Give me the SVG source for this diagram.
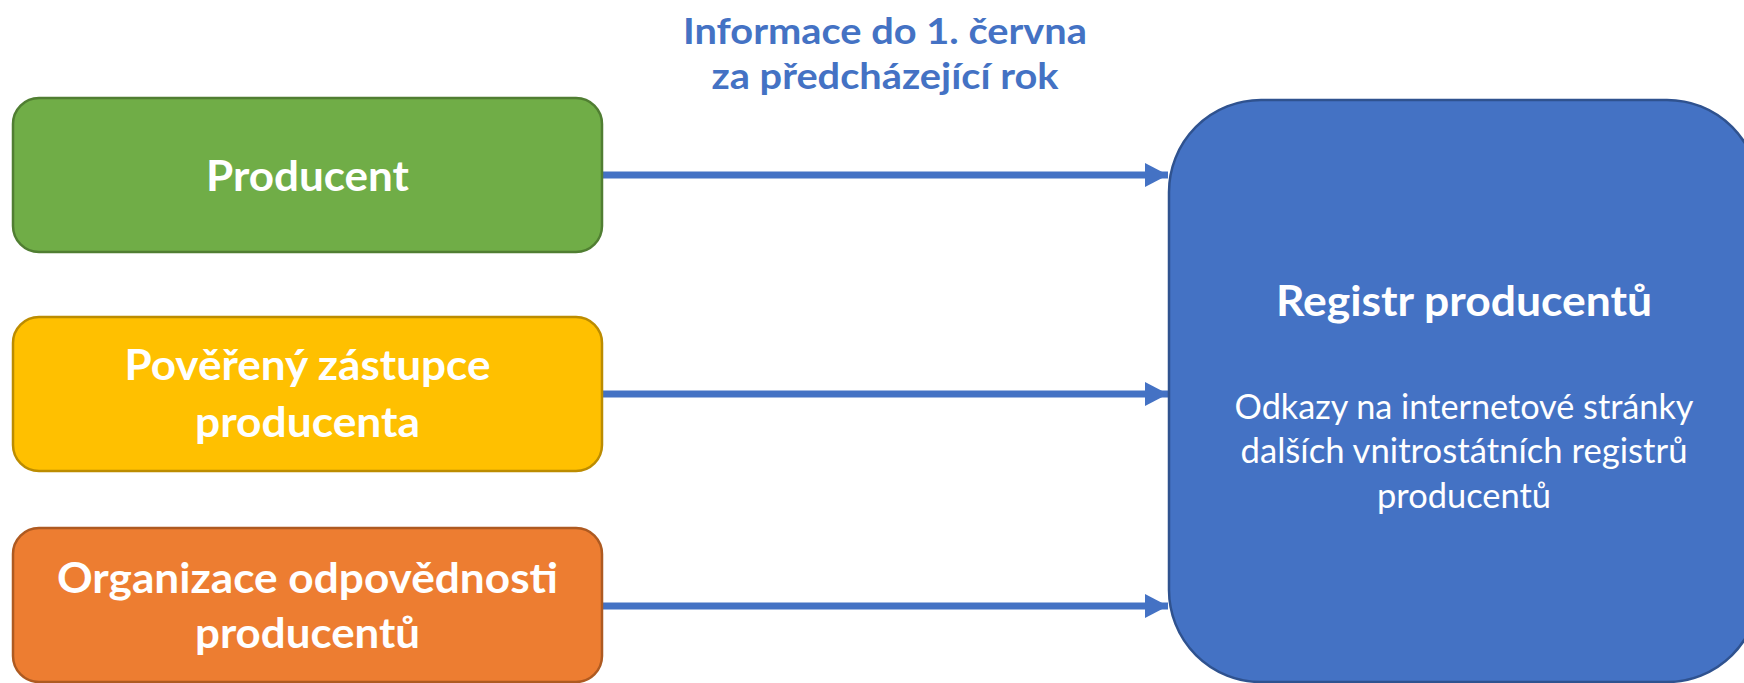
<svg xmlns="http://www.w3.org/2000/svg" width="1744" height="683" viewBox="0 0 1744 683">
<defs>
<style>
.t{font-family:Lato,"Open Sans","Liberation Sans",sans-serif;fill:#fff;text-anchor:middle}
.b{font-weight:bold;font-size:42px}
.title{font-family:Lato,"Open Sans","Liberation Sans",sans-serif;font-weight:bold;font-size:36px;fill:#4472C4;text-anchor:middle}
.sub{font-size:34px}
.box{stroke-width:2.5}
.conn{stroke:#4472C4;stroke-width:7;fill:none}
</style>
<marker id="ah" markerUnits="userSpaceOnUse" markerWidth="24" markerHeight="26" refX="23" refY="13" orient="auto">
<path d="M0,1 L23,13 L0,25 Z" fill="#4472C4"/>
</marker>
</defs>
<rect width="1744" height="683" fill="#fff"/>
<g id="title">
<text class="title" x="885" y="44" textLength="404" lengthAdjust="spacingAndGlyphs">Informace do 1. června</text>
<text class="title" x="885" y="89" textLength="347" lengthAdjust="spacingAndGlyphs">za předcházející rok</text>
</g>
<g id="connectors">
<line class="conn" x1="603" y1="175" x2="1168" y2="175" marker-end="url(#ah)"/>
<line class="conn" x1="603" y1="394" x2="1168" y2="394" marker-end="url(#ah)"/>
<line class="conn" x1="603" y1="606" x2="1168" y2="606" marker-end="url(#ah)"/>
</g>
<g id="producent">
<rect class="box" x="13" y="98" width="589" height="154" rx="26" fill="#70AD47" stroke="#507E32"/>
<text class="t b" x="307.5" y="191" textLength="203" lengthAdjust="spacingAndGlyphs">Producent</text>
</g>
<g id="povereny">
<rect class="box" x="13" y="317" width="589" height="154" rx="26" fill="#FFC000" stroke="#BC8C00"/>
<text class="t b" x="307.5" y="380" textLength="366" lengthAdjust="spacingAndGlyphs">Pověřený zástupce</text>
<text class="t b" x="307.5" y="437" textLength="225" lengthAdjust="spacingAndGlyphs">producenta</text>
</g>
<g id="organizace">
<rect class="box" x="13" y="528" width="589" height="154" rx="26" fill="#ED7D31" stroke="#AE5A21"/>
<text class="t b" x="307.5" y="593" textLength="501" lengthAdjust="spacingAndGlyphs">Organizace odpovědnosti</text>
<text class="t b" x="307.5" y="648" textLength="225" lengthAdjust="spacingAndGlyphs">producentů</text>
</g>
<g id="registr">
<rect class="box" x="1169" y="100" width="590" height="582" rx="92" fill="#4472C4" stroke="#2F528F"/>
<text class="t b" x="1464" y="316" textLength="376" lengthAdjust="spacingAndGlyphs">Registr producentů</text>
<text class="t sub" x="1464" y="419" textLength="459" lengthAdjust="spacingAndGlyphs">Odkazy na internetové stránky</text>
<text class="t sub" x="1464" y="463" textLength="447" lengthAdjust="spacingAndGlyphs">dalších vnitrostátních registrů</text>
<text class="t sub" x="1464" y="508" textLength="174" lengthAdjust="spacingAndGlyphs">producentů</text>
</g>
</svg>
